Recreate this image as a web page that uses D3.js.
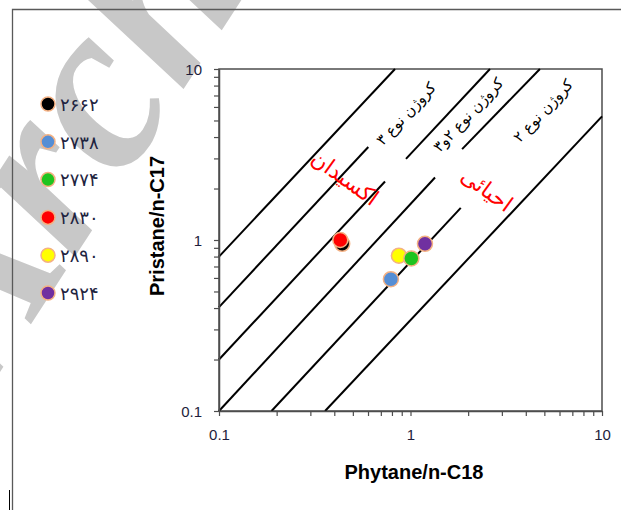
<!DOCTYPE html>
<html><head><meta charset="utf-8">
<script src="https://cdn.jsdelivr.net/npm/d3@7"></script>
<style>html,body{margin:0;padding:0;background:#fff;}svg{display:block;}</style>
</head><body>
<script>
// ---- data ----
const samples = ["۲۶۶۲","۲۷۳۸","۲۷۷۴","۲۸۳۰","۲۸۹۰","۲۹۲۴"];
const phytane = [0.44, 0.79, 1.01, 0.43, 0.87, 1.19];   // Phytane/n-C18
const pristane = [0.95, 0.59, 0.78, 1.00, 0.81, 0.95];  // Pristane/n-C17
const colors = ["#000000","#558ed5","#1fc41f","#ff0000","#ffff00","#7030a0"];
const drawOrder = [0,1,4,2,3,5];

// guide line segments (data coordinates)
const lineX1 = [0.1, 0.1, 0.1, 0.1, 0.188, 0.358, 0.947, 1.86];
const lineY1 = [0.80, 0.405, 0.20, 0.1, 0.1, 0.1, 2.98, 3.40];
const lineX2 = [0.83, 0.602, 0.736, 1.343, 1.83, 10, 2.60, 4.74];
const lineY2 = [10, 3.50, 2.20, 2.32, 1.54, 5.28, 10, 10];

// annotations
const noteText = ["کروژن نوع ۳","کروژن نوع ۲و۳","کروژن نوع ۲","اکسیدان","احیائی"];
const noteX = [0.947, 2.0, 4.92, 0.455, 2.51];
const noteY = [5.48, 5.40, 5.70, 2.31, 1.97];

const majorTicks = [0.1, 1, 10];
const tickLabels = ["0.1","1","10"];
const xTitle = "Phytane/n-C18";
const yTitle = "Pristane/n-C17";

// ---- layout ----
const W = 621, H = 510;
const L = 219, R = 602, T = 69, B = 411;

const svg = d3.select("body").append("svg").attr("width", W).attr("height", H);
svg.append("rect").attr("width", W).attr("height", H).attr("fill", "#fff");

// watermark
svg.append("text")
  .attr("transform", "translate(-15,395) rotate(-57)")
  .attr("font-family", "Liberation Serif")
  .attr("font-style", "italic").attr("font-weight", "bold")
  .attr("font-size", 240).attr("fill", "#c8c8c8")
  .text("Archive");

// outer frame
svg.append("path").attr("d", `M12.5,${H} V9.5 H${W}`)
  .attr("fill", "none").attr("stroke", "#595959").attr("stroke-width", 1.3);
svg.append("line").attr("x1", 9.5).attr("x2", 9.5).attr("y1", 490).attr("y2", H)
  .attr("stroke", "#000").attr("stroke-width", 1);

const x = d3.scaleLog().domain([0.1, 10]).range([L, R]);
const y = d3.scaleLog().domain([0.1, 10]).range([B, T]);

const allTicks = [];
[0.1, 1].forEach(d => { for (let k = 1; k < 10; k++) allTicks.push(+(d * k).toFixed(3)); });
allTicks.push(10);
const fmt = v => { const i = majorTicks.indexOf(v); return i >= 0 ? tickLabels[i] : ""; };

// plot frame
svg.append("rect").attr("x", L).attr("y", T).attr("width", R - L).attr("height", B - T)
  .attr("fill", "none").attr("stroke", "#4d4d4d").attr("stroke-width", 1.5);

// guide lines
const plot = svg.append("g");
plot.selectAll("line.guide").data(lineX1).join("line").attr("class", "guide")
  .attr("x1", (d, i) => x(lineX1[i])).attr("y1", (d, i) => y(lineY1[i]))
  .attr("x2", (d, i) => x(lineX2[i])).attr("y2", (d, i) => y(lineY2[i]))
  .attr("stroke", "#000").attr("stroke-width", 2);

// axes
const xAxis = svg.append("g").attr("transform", `translate(0,${B})`)
  .call(d3.axisBottom(x).tickValues(allTicks).tickFormat(fmt).tickSize(5).tickSizeOuter(0).tickPadding(13));
const yAxis = svg.append("g").attr("transform", `translate(${L},0)`)
  .call(d3.axisLeft(y).tickValues(allTicks).tickFormat(fmt).tickSize(5).tickSizeOuter(0).tickPadding(12));
[xAxis, yAxis].forEach(a => {
  a.select(".domain").attr("stroke", "#4d4d4d").attr("stroke-width", 1.5);
  a.selectAll(".tick line").attr("stroke", "#4d4d4d").attr("stroke-width", 1.2);
  a.selectAll(".tick text").attr("font-family", "Liberation Sans, Arial, sans-serif")
    .attr("font-size", 15).attr("fill", "#1e1e3c");
});
yAxis.selectAll(".tick text").attr("dy", "0.35em");

// annotations
const angKer = -47, angRed = 36;
svg.selectAll("text.note").data(noteText).join("text").attr("class", "note")
  .attr("transform", (d, i) => `translate(${x(noteX[i])},${y(noteY[i])}) rotate(${i < 3 ? angKer : angRed})`)
  .attr("text-anchor", "middle").attr("dy", "0.35em")
  .attr("direction", "rtl")
  .attr("font-family", "DejaVu Sans, sans-serif")
  .attr("font-size", (d, i) => i < 3 ? 15 : 22)
  .attr("fill", (d, i) => i < 3 ? "#000" : "#ff0000")
  .text(d => d);

// points
svg.selectAll("circle.pt").data(drawOrder).join("circle").attr("class", "pt")
  .attr("cx", i => x(phytane[i])).attr("cy", i => y(pristane[i])).attr("r", 7.5)
  .attr("fill", i => colors[i]).attr("stroke", "#f4b183").attr("stroke-width", 1.5);

// legend
const lg = svg.append("g");
samples.forEach((s, i) => {
  const cy = 104 + i * 37.8;
  lg.append("circle").attr("cx", 48).attr("cy", cy).attr("r", 7)
    .attr("fill", colors[i]).attr("stroke", "#f4b183").attr("stroke-width", 1.5);
  lg.append("text").attr("x", 60).attr("y", cy).attr("dy", "0.38em")
    .attr("font-family", "DejaVu Sans, sans-serif").attr("font-size", 18)
    .attr("fill", "#1e2440").text(s);
});

// titles
svg.append("text").attr("transform", `translate(157,226) rotate(-90)`)
  .attr("text-anchor", "middle").attr("dy", "0.35em")
  .attr("font-family", "Liberation Sans, Arial, sans-serif").attr("font-weight", "bold")
  .attr("font-size", 20).attr("fill", "#000").text(yTitle);
svg.append("text").attr("x", 414).attr("y", 472).attr("dy", "0.35em")
  .attr("text-anchor", "middle")
  .attr("font-family", "Liberation Sans, Arial, sans-serif").attr("font-weight", "bold")
  .attr("font-size", 20).attr("fill", "#000").text(xTitle);
</script>
</body></html>
